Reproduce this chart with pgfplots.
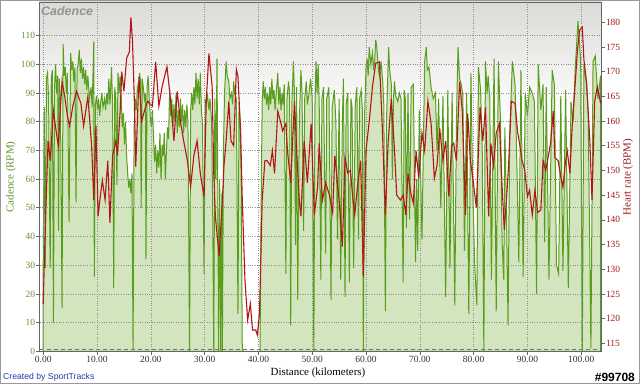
\documentclass[border=0pt]{standalone}
\usepackage{fontspec}
\setmainfont{Liberation Serif}
\newfontfamily\arial{Liberation Sans}
\usepackage{pgfplots}
\usepackage{pgfplotstable}
\pgfplotsset{compat=1.18}
\definecolor{cadline}{RGB}{88,158,28}
\definecolor{cadfill}{RGB}{210,229,190}
\definecolor{hrline}{RGB}{178,22,22}
\definecolor{bggray}{RGB}{220,218,214}
\definecolor{gridc}{RGB}{140,140,140}
\definecolor{cadlab}{RGB}{100,150,50}
\definecolor{hrlab}{RGB}{160,30,30}
\definecolor{credit}{RGB}{30,60,170}
\pgfdeclareverticalshading{plotbg}{100bp}{color(0bp)=(white); color(59bp)=(white); color(75bp)=(bggray); color(100bp)=(bggray)}

\pgfplotstableread{
x y
0 30
0.2 85
0.4 29
0.6 95
0.8 97
1.0 88
1.3 29
1.5 95
1.7 98
1.9 10
2.1 92
2.3 100
2.5 90
2.7 96
2.85 42
3.0 95
3.2 88
3.5 15
3.7 107
3.9 96
4.1 99
4.3 90
4.5 97
4.8 45
5.1 104
5.3 98
5.5 101
5.7 94
5.9 99
6.1 52
6.3 98
6.5 100
6.7 105
6.9 97
7.1 102
7.3 95
7.5 99
7.7 93
7.9 98
8.1 91
8.3 96
8.6 88
8.9 92
9.1 85
9.4 108
9.5 26
9.7 86
9.9 89
10.1 84
10.3 88
10.5 82
10.7 87
10.9 90
11.1 85
11.4 88
11.6 84
11.8 90
12.0 86
12.2 95
12.4 86
12.7 99
12.9 85
13.1 22
13.3 92
13.5 88
13.7 58
13.9 97
14.1 90
14.3 96
14.5 88
14.7 78
14.9 83
15.1 72
15.3 80
15.5 68
15.7 62
15.9 57
16.1 60
16.3 55
16.5 62
16.7 0.5
16.9 78
17.1 88
17.3 84
17.5 92
17.7 90
17.9 97
18.1 94
18.2 50
18.4 95
18.6 92
18.8 88
19.0 90
19.1 32
19.3 92
19.5 96
19.7 88
19.9 82
20.1 78
20.3 84
20.5 75
20.7 66
20.9 72
21.1 62
21.3 70
21.5 64
21.7 76
21.9 60
22.1 72
22.3 68
22.5 76
22.7 60
22.9 70
23.1 78
23.3 74
23.5 91
23.7 82
23.9 88
24.1 78
24.3 86
24.5 80
24.7 90
24.9 76
25.1 84
25.3 78
25.5 88
25.7 80
25.9 86
26.1 76
26.3 84
26.5 78
26.7 86
26.9 80
27.2 0
27.4 84
27.6 90
27.8 84
28.0 92
28.2 86
28.4 97
28.6 88
28.8 95
29.0 86
29.2 97
29.4 84
29.6 80
29.9 27
30.1 88
30.3 86
30.5 90
30.8 84
31.0 88
31.3 80
31.5 50
31.7 0
31.9 88
32.1 60
32.3 102
32.5 40
32.6 0
32.8 60
33.0 0
33.2 55
33.3 0
33.5 70
33.7 90
34.0 101
34.2 96
34.5 94
34.7 88
35.0 90
35.2 86
35.4 94
35.6 90
35.9 88
36.2 13
36.4 87
36.6 80
36.8 60
37.0 1
37.2 0
40.3 0
40.5 50
40.7 87
40.9 94
41.1 88
41.3 92
41.5 86
41.7 90
41.9 84
42.1 92
42.3 86
42.5 95
42.7 88
42.9 91
43.1 84
43.3 90
43.6 97
43.8 86
44.0 92
44.2 84
44.4 90
44.6 86
44.8 93
45.1 27
45.3 88
45.6 94
45.8 90
46.0 9
46.2 85
46.5 101
46.7 90
46.9 37
47.1 92
47.3 18
47.6 80
47.9 98
48.1 90
48.4 42
48.6 88
48.9 94
49.1 86
49.4 90
49.7 95
50.0 88
50.3 0
50.5 85
50.7 101
50.9 90
51.1 100
51.3 86
51.6 25
51.8 88
52.1 92
52.5 34
52.7 88
53.1 92
53.5 18
53.7 85
54.1 91
54.4 80
54.7 39
55.0 88
55.3 25
55.6 80
55.8 95
56.1 19
56.3 86
56.6 90
56.9 24
57.2 88
57.4 85
57.7 29
58.0 86
58.3 92
58.6 39
58.8 88
59.1 91
59.3 85
59.5 0
59.7 80
60.0 99
60.2 102
60.4 96
60.6 106
60.9 100
61.2 104
61.4 98
61.6 101
61.8 108.5
62.0 106
62.3 98
62.5 96
62.8 101
63.1 94
63.3 86
63.6 14
63.8 80
64.2 106
64.4 98
64.7 93
64.9 60
65.1 88
65.3 94
65.5 89
65.9 87
66.2 90
66.5 88
66.9 24
67.1 91
67.3 88
67.5 43
67.8 90
68.1 46
68.4 92
68.8 93
69.2 31
69.4 60
69.6 35
69.9 84
70.4 39
70.9 101
71.2 106
71.4 98
71.7 99
72.1 92
72.5 88
72.9 90
73.2 70
73.5 88
73.9 50
74.3 89
74.8 19
75.2 91
75.6 29
76.0 90
76.5 16
76.8 80
77.1 106
77.4 95
77.7 93
78.0 89
78.3 35
78.7 90
79.1 13
79.5 97
79.8 60
80.2 30
80.6 16
80.9 99
81.3 91
81.6 70
81.9 0
82.2 101
82.5 90
82.7 96
83.0 88
83.3 25
83.8 102
84.2 14
84.6 101
85.0 80
85.3 38
85.6 25
85.8 78
86.1 50
86.4 9
86.7 75
87.2 101
87.7 93
88.1 60
88.4 31
88.8 98
89.2 26
89.6 90
90.0 82
90.4 92
90.9 90
91.3 87
91.7 20
92.0 100
92.5 84
92.9 93
93.2 38
93.5 92
94.0 25
94.6 98
95.0 93
95.4 30
95.8 27
96.2 89
96.6 28
97.1 91
97.6 22
98.1 87
98.5 80
98.9 99
99.4 115
99.9 101
100.2 0
100.5 100
101.0 93
101.3 82
101.8 1
102.2 101
102.6 103
103.1 88
103.6 96
}\cadtable

\pgfplotstableread{
x y
0 123
0.4 139
0.9 156
1.3 152
1.9 162
2.4 158
2.8 155
3.5 168
4.0 165
4.5 161
4.9 159
5.5 163
6.2 166
7.0 163.6
7.5 159
8.3 165
9.0 155
9.4 144
9.8 159
10.2 140.7
10.6 144.7
11.0 148
11.5 144
12.0 152
12.4 139.4
12.9 153
13.5 156
13.8 153
14.3 162
14.6 170
15.0 166
15.5 172.7
16.0 174
16.3 181
16.6 176
16.9 165.7
17.2 150.8
17.8 169
18.3 160
18.8 162
19.4 164
20.3 163
20.9 172
21.5 163
22.1 167
23.0 171
23.7 164
24.3 156
24.9 166
25.5 160
26.1 156
26.8 152
27.4 146.7
28.0 153
28.6 156
29.2 149.4
29.9 144.7
30.3 164
30.8 173.7
31.4 167
31.7 149.4
32.0 140.7
32.7 132.6
33.3 144
33.6 151
34.0 156
34.5 164
34.9 156
35.4 155
35.9 170.5
36.2 169
36.7 157.6
37.0 144
37.5 127.8
38.0 119.7
38.5 123
38.9 117.7
39.5 117.7
39.8 116.7
40.2 121
40.7 144
41.2 152
41.6 152
42.2 151
42.6 154
43.0 149.4
43.6 162
44.2 159.5
44.5 158
45.1 159.5
45.4 154
46.0 147.5
46.7 164
47.2 152
47.6 144
47.9 140.7
48.5 156
49.1 147.5
49.8 159.5
50.4 141
51.0 146.6
51.3 155.5
51.9 144
52.5 147.5
53.2 145
53.8 141.5
54.2 153
55.0 144
55.6 134.6
56.1 152.6
56.6 149.5
57.1 150
57.5 145
57.9 141
58.4 146.6
59.0 152
59.5 128.5
60.0 154
60.6 160
61.2 167
61.8 171.7
62.5 172
63.0 159.5
63.6 141
64.1 155.5
64.7 164.5
65.3 154
65.7 145
66.4 144
66.9 145
67.4 141
67.8 149.4
68.4 145
68.8 143.4
69.3 154
69.8 148.4
70.4 157.6
70.9 154
71.5 164
72.1 159.5
72.7 148.4
73.2 151
73.7 158.5
74.3 152
74.8 156
75.4 144.7
75.9 155
76.3 155.5
76.8 152
77.4 168
77.9 162
78.5 141
78.9 161.5
79.4 152
79.9 148
80.5 142.5
81.2 162.8
81.7 156
82.2 162.8
82.8 140.7
83.2 155.5
83.7 151
84.2 157.6
84.8 159.5
85.3 146.6
85.7 138
86.1 144
86.5 151
87.0 164
87.7 163.6
88.2 157.6
88.6 155
89.0 152
89.5 150
90.0 144.7
90.4 146
90.9 141
91.4 146
91.9 141.5
92.5 142
92.9 152
93.4 150
93.9 153
94.3 155.5
94.8 162
95.1 152.6
95.7 152
96.2 148.7
96.6 146.6
97.1 152
97.4 154
97.9 149.4
98.3 158.6
98.8 166.4
99.3 174.4
99.7 178.4
100.2 179
100.5 172.4
101.0 167.7
101.6 156
102.0 144
102.5 164
103.0 167
103.6 163.6
}\hrtable

\begin{document}
\begin{tikzpicture}[x=1bp,y=1bp]
\fill[white] (0,0) rectangle (640,384);
\draw[gray!80, line width=1bp] (0.5,0.5) rectangle (639.5,383.5);

\begin{axis}[at={(39.5bp,32.7bp)}, anchor=south west, scale only axis,
  width=562bp, height=349.3bp,
  xmin=-0.69, xmax=103.77, ymin=0, ymax=121.7,
  axis background/.style={shading=plotbg},
  axis on top,
  xmajorgrids, ymajorgrids,
  major grid style={gridc, dotted, line width=0.6bp},
  axis line style={black!60, line width=0.8bp},
  xtick={0,10,...,100},
  xticklabels={0.00,10.00,20.00,30.00,40.00,50.00,60.00,70.00,80.00,90.00,100.00},
  ytick={0,10,...,110},
  yticklabels={0,10,20,30,40,50,60,70,80,90,100,110},
  xtick pos=bottom, ytick pos=left,
  tick align=outside, major tick length=3.5bp,
  tick style={black!60, line width=0.6bp},
  every tick label/.append style={font=\fontsize{9.5}{10}\selectfont},
  yticklabel style={cadlab, inner sep=0.8bp},
  xticklabel style={black!80, inner sep=1bp},
  clip=true,
]
\addplot[draw=cadline, fill=cadfill, line width=1bp] table[x=x,y=y] {\cadtable} \closedcycle;
\draw[black!55, dashed, dash pattern=on 4bp off 3bp, line width=0.8bp] (axis cs:-0.69,0.8) -- (axis cs:103.77,0.8);
\end{axis}

\begin{axis}[at={(39.5bp,32.7bp)}, anchor=south west, scale only axis,
  width=562bp, height=349.3bp,
  xmin=-0.69, xmax=103.77, ymin=113.38, ymax=184.11,
  axis x line=none, axis y line*=right,
  axis line style={black!60, line width=0.8bp},
  ytick={115,120,...,180},
  yticklabels={115,120,125,130,135,140,145,150,155,160,165,170,175,180},
  tick align=outside, major tick length=3.5bp,
  tick style={black!60, line width=0.6bp},
  every tick label/.append style={font=\fontsize{9.5}{10}\selectfont},
  yticklabel style={hrlab, inner sep=0.8bp},
]
\addplot[hrline, line width=1.1bp] table[x=x,y=y] {\hrtable};
\end{axis}

\node[anchor=west, text=black!42, font=\arial\bfseries\itshape\fontsize{12.5}{13}\selectfont, inner sep=0] at (41,373) {Cadence};
\node[font=\fontsize{11}{12}\selectfont, inner sep=0] at (318,11.3) {Distance (kilometers)};
\node[rotate=90, text=cadlab, font=\fontsize{11}{12}\selectfont, inner sep=0] at (11,207) {Cadence (RPM)};
\node[rotate=90, text=hrlab, font=\fontsize{11}{12}\selectfont, inner sep=0] at (628,207) {Heart rate (BPM)};
\node[anchor=west, text=credit, font=\arial\fontsize{8.7}{9}\selectfont, inner sep=0] at (3,6.3) {Created by SportTracks};
\node[anchor=east, text=black, font=\arial\bfseries\fontsize{12}{12}\selectfont, inner sep=0] at (635,6.3) {\#99708};
\end{tikzpicture}
\end{document}
